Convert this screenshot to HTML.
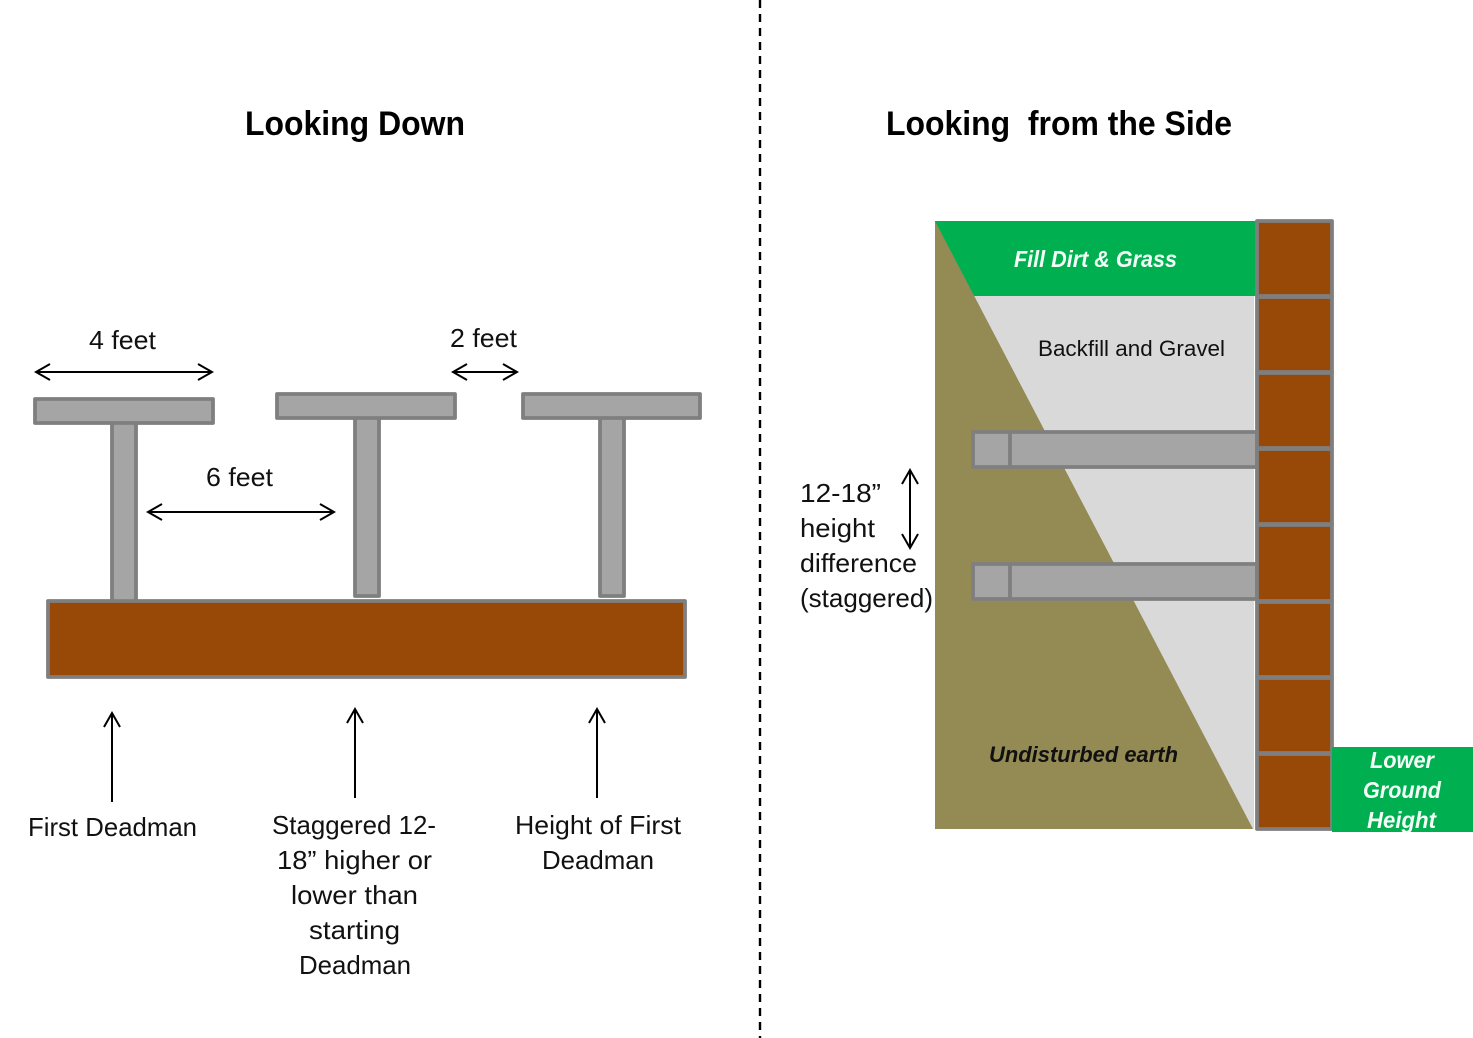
<!DOCTYPE html>
<html>
<head>
<meta charset="utf-8">
<style>
html,body{margin:0;padding:0;background:#fff;width:1473px;height:1038px;overflow:hidden}
svg{display:block}
text{font-family:"Liberation Sans",sans-serif;fill:#111}
.b{font-size:26px}
.h{font-size:34px;font-weight:bold;fill:#000}
.s{font-size:22px}
.w{font-size:23px;font-weight:bold;font-style:italic;fill:#f4fff8}
.g{fill:#a5a5a5;stroke:#7f7f7f;stroke-width:3.8;stroke-linejoin:round}
.r{fill:#984807;stroke:#7f7f7f;stroke-width:3.8;stroke-linejoin:round}
.a{fill:none;stroke:#000;stroke-width:2}
</style>
</head>
<body>
<svg width="1473" height="1038" viewBox="0 0 1473 1038" xmlns="http://www.w3.org/2000/svg">
<line x1="760" y1="0" x2="760" y2="1038" stroke="#000" stroke-width="2.4" stroke-dasharray="8 6"/>

<text class="h" x="245" y="135" textLength="220" lengthAdjust="spacingAndGlyphs">Looking Down</text>
<text class="h" x="886" y="135" textLength="346" lengthAdjust="spacingAndGlyphs" xml:space="preserve">Looking  from the Side</text>

<!-- Looking down -->
<rect class="g" x="112" y="420" width="24" height="182"/>
<rect class="g" x="355" y="415" width="24" height="181"/>
<rect class="g" x="600" y="415" width="24" height="181"/>
<rect class="g" x="35" y="399" width="178" height="24"/>
<rect class="g" x="277" y="394" width="178" height="24"/>
<rect class="g" x="523" y="394" width="177" height="24"/>
<rect class="r" x="48" y="601" width="637" height="76"/>

<path class="a" d="M36 372H212M50 364L36 372L50 380M198 364L212 372L198 380"/>
<path class="a" d="M148 512H334M162 504L148 512L162 520M320 504L334 512L320 520"/>
<path class="a" d="M453 372H517M467 364L453 372L467 380M503 364L517 372L503 380"/>
<path class="a" d="M112 802V713M104 727L112 713L120 727"/>
<path class="a" d="M355 798V709M347 723L355 709L363 723"/>
<path class="a" d="M597 798V709M589 723L597 709L605 723"/>

<text class="b" x="89" y="349" textLength="67" lengthAdjust="spacingAndGlyphs">4 feet</text>
<text class="b" x="206" y="486" textLength="67" lengthAdjust="spacingAndGlyphs">6 feet</text>
<text class="b" x="450" y="347" textLength="67" lengthAdjust="spacingAndGlyphs">2 feet</text>

<text class="b" x="28" y="836" textLength="169" lengthAdjust="spacingAndGlyphs">First Deadman</text>
<text class="b" x="272" y="834" textLength="164" lengthAdjust="spacingAndGlyphs">Staggered 12-</text>
<text class="b" x="277" y="869" textLength="155" lengthAdjust="spacingAndGlyphs">18” higher or</text>
<text class="b" x="291" y="904" textLength="127" lengthAdjust="spacingAndGlyphs">lower than</text>
<text class="b" x="309" y="939" textLength="91" lengthAdjust="spacingAndGlyphs">starting</text>
<text class="b" x="299" y="974" textLength="112" lengthAdjust="spacingAndGlyphs">Deadman</text>
<text class="b" x="515" y="834" textLength="166" lengthAdjust="spacingAndGlyphs">Height of First</text>
<text class="b" x="542" y="869" textLength="112" lengthAdjust="spacingAndGlyphs">Deadman</text>

<!-- Side view -->
<polygon points="965,296 1254,296 1254,829 1245,829" fill="#d9d9d9"/>
<polygon points="930,221 1256,221 1256,296 965,296" fill="#00b050"/>
<polygon points="935,221 935,829 1253,829" fill="#948a54"/>
<rect x="925" y="215" width="10" height="85" fill="#fff"/>

<rect class="g" x="973" y="432" width="284" height="35"/>
<line x1="1010" y1="432" x2="1010" y2="467" stroke="#7f7f7f" stroke-width="3.8"/>
<rect class="g" x="973" y="564" width="284" height="35"/>
<line x1="1010" y1="564" x2="1010" y2="599" stroke="#7f7f7f" stroke-width="3.8"/>

<rect class="r" x="1257" y="221" width="75" height="75"/>
<rect class="r" x="1257" y="297" width="75" height="75"/>
<rect class="r" x="1257" y="373" width="75" height="75"/>
<rect class="r" x="1257" y="449" width="75" height="75"/>
<rect class="r" x="1257" y="525" width="75" height="76"/>
<rect class="r" x="1257" y="602" width="75" height="75"/>
<rect class="r" x="1257" y="678" width="75" height="75"/>
<rect class="r" x="1257" y="754" width="75" height="75"/>

<rect x="1332" y="747" width="141" height="85" fill="#00b050"/>

<text class="w" x="1014" y="267" textLength="163" lengthAdjust="spacingAndGlyphs">Fill Dirt &amp; Grass</text>
<text class="s" x="1038" y="356" textLength="187" lengthAdjust="spacingAndGlyphs">Backfill and Gravel</text>
<text class="s" x="989" y="762" textLength="189" lengthAdjust="spacingAndGlyphs" font-weight="bold" font-style="italic" fill="#000">Undisturbed earth</text>
<text class="w" x="1370" y="768" textLength="64" lengthAdjust="spacingAndGlyphs">Lower</text>
<text class="w" x="1363" y="798" textLength="78" lengthAdjust="spacingAndGlyphs">Ground</text>
<text class="w" x="1367" y="828" textLength="69" lengthAdjust="spacingAndGlyphs">Height</text>

<path class="a" d="M910 470V548M902 484L910 470L918 484M902 534L910 548L918 534"/>
<text class="b" x="800" y="502" textLength="81" lengthAdjust="spacingAndGlyphs">12-18”</text>
<text class="b" x="800" y="537" textLength="75" lengthAdjust="spacingAndGlyphs">height</text>
<text class="b" x="800" y="572" textLength="117" lengthAdjust="spacingAndGlyphs">difference</text>
<text class="b" x="800" y="607" textLength="133" lengthAdjust="spacingAndGlyphs">(staggered)</text>
</svg>
</body>
</html>
